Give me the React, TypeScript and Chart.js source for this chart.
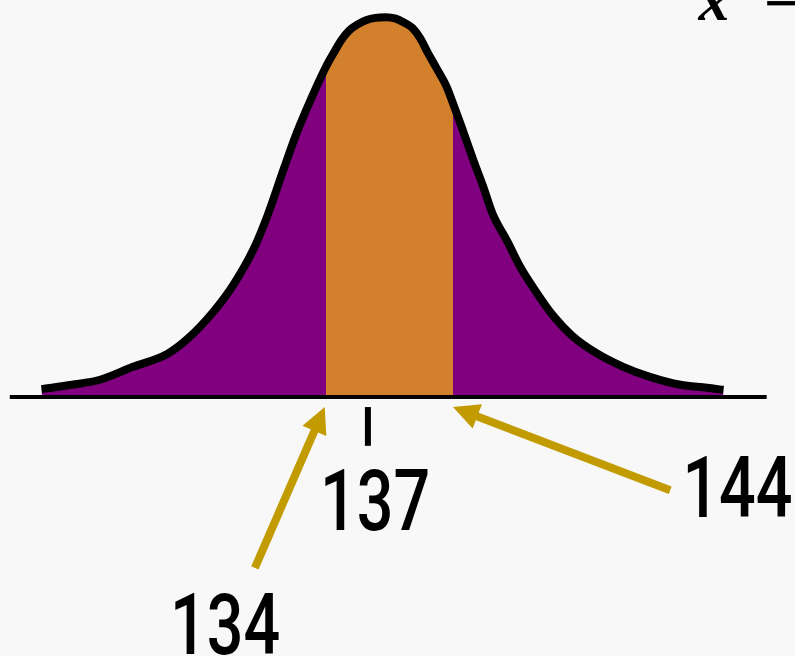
import React, { useEffect, useRef } from "react";
import { Chart, registerables } from "chart.js";

Chart.register(...registerables);

// Bell curve (x in the variable's units, y as density)
const curveX = [111.6, 114.0, 116.2, 118.8, 121.5, 123.1, 125.1, 126.7, 128.3, 129.4, 130.7, 131.7, 133.3, 134.0, 134.6, 135.2, 135.8, 136.5, 137.2, 137.9, 138.7, 139.5, 140.1, 140.8, 141.4, 142.0, 142.7, 143.5, 144.0, 144.6, 145.6, 146.4, 147.1, 148.3, 149.3, 150.6, 151.9, 153.4, 155.3, 157.4, 159.5, 161.9, 164.0, 165.3];
const curveY = [0.0011, 0.0017, 0.0024, 0.0042, 0.006, 0.0081, 0.0118, 0.0156, 0.0206, 0.0253, 0.0319, 0.0368, 0.0434, 0.046, 0.0479, 0.0497, 0.051, 0.0519, 0.0525, 0.0528, 0.0529, 0.0527, 0.0522, 0.0514, 0.05, 0.048, 0.0458, 0.0432, 0.0409, 0.038, 0.033, 0.0292, 0.0256, 0.0216, 0.0181, 0.0145, 0.0113, 0.0085, 0.0061, 0.0042, 0.0028, 0.0017, 0.0013, 0.001];

// shaded interval
const shadeLow = 134;
const shadeHigh = 144;

// axis line extent and mean tick
const axisRange = [109.1, 168.7];
const meanTick = 137.3;

// annotation labels: text, anchor x, anchor y (data units, bottom-centre of text)
const labelTexts = ["137", "134", "144"];
const labelX = [137.86, 126.05, 166.4];
const labelY = [-0.0185, -0.0358, -0.0167];

// arrows: tail -> head (data units)
const arrowTailX = [128.4, 161.1];
const arrowTailY = [-0.0238, -0.013];
const arrowHeadX = [133.9, 144.0];
const arrowHeadY = [-0.0014, -0.0014];

// scale bounds
const xMin = 108.33;
const xMax = 170.93;
const yMin = -0.03607;
const yMax = 0.05529;

const PURPLE = "#800080";
const ORANGE = "#D3802C";
const GOLD = "#C19B00";
const BG = "#F8F8F8";

const fullCurve = curveX.map((x, i) => ({ x, y: curveY[i] }));
const midCurve = fullCurve.filter((p) => p.x >= shadeLow && p.x <= shadeHigh);

const annotations = {
  id: "annotations",
  afterDraw(chart: any) {
    const ctx = chart.ctx;
    const xs = chart.scales.x;
    const ys = chart.scales.y;

    // mean tick
    ctx.save();
    ctx.strokeStyle = "#000";
    ctx.lineWidth = 6;
    ctx.beginPath();
    ctx.moveTo(xs.getPixelForValue(meanTick), ys.getPixelForValue(-0.0014));
    ctx.lineTo(xs.getPixelForValue(meanTick), ys.getPixelForValue(-0.0068));
    ctx.stroke();
    ctx.restore();

    // arrows
    for (let i = 0; i < arrowTailX.length; i++) {
      const x0 = xs.getPixelForValue(arrowTailX[i]);
      const y0 = ys.getPixelForValue(arrowTailY[i]);
      const x1 = xs.getPixelForValue(arrowHeadX[i]);
      const y1 = ys.getPixelForValue(arrowHeadY[i]);
      const ang = Math.atan2(y1 - y0, x1 - x0);
      const headLen = 26;
      const halfW = 13;
      const bx = x1 - headLen * Math.cos(ang);
      const by = y1 - headLen * Math.sin(ang);
      ctx.save();
      ctx.strokeStyle = GOLD;
      ctx.fillStyle = GOLD;
      ctx.lineWidth = 8;
      ctx.lineCap = "butt";
      ctx.beginPath();
      ctx.moveTo(x0, y0);
      ctx.lineTo(bx + 2 * Math.cos(ang), by + 2 * Math.sin(ang));
      ctx.stroke();
      ctx.beginPath();
      ctx.moveTo(x1, y1);
      ctx.lineTo(bx + halfW * Math.sin(ang), by - halfW * Math.cos(ang));
      ctx.lineTo(bx - halfW * Math.sin(ang), by + halfW * Math.cos(ang));
      ctx.closePath();
      ctx.fill();
      ctx.restore();
    }

    // labels (condensed look)
    for (let i = 0; i < labelTexts.length; i++) {
      const px = xs.getPixelForValue(labelX[i]);
      const py = ys.getPixelForValue(labelY[i]);
      ctx.save();
      ctx.translate(px, py);
      ctx.scale(0.76, 1);
      ctx.fillStyle = "#000";
      ctx.font = "500 85px Roboto";
      ctx.textAlign = "center";
      ctx.textBaseline = "alphabetic";
      ctx.fillText(labelTexts[i], 0, 0);
      ctx.restore();
    }

    // clipped formula fragment at top right
    const area = chart.chartArea;
    ctx.save();
    ctx.fillStyle = "#000";
    ctx.font = 'italic 700 62px "Liberation Serif"';
    ctx.textAlign = "center";
    ctx.textBaseline = "alphabetic";
    ctx.fillText("x", area.right - 81, area.top + 20);
    ctx.fillText("\u2212", area.right - 14, area.top + 24);
    ctx.restore();
  },
};

export default function App() {
  const ref = useRef<HTMLCanvasElement | null>(null);

  useEffect(() => {
    document.body.style.margin = "0";
    document.body.style.background = BG;
    const canvas = ref.current!;
    const chart = new Chart(canvas, {
      type: "line",
      data: {
        datasets: [
          {
            label: "curve",
            data: fullCurve,
            borderColor: "#000",
            borderWidth: 8,
            cubicInterpolationMode: "monotone",
            pointRadius: 0,
            fill: false,
            order: 0,
          },
          {
            label: "axis",
            data: [
              { x: axisRange[0], y: 0 },
              { x: axisRange[1], y: 0 },
            ],
            borderColor: "#000",
            borderWidth: 4,
            pointRadius: 0,
            fill: false,
            order: 1,
          },
          {
            label: "middle",
            data: midCurve,
            borderWidth: 0,
            borderColor: "rgba(0,0,0,0)",
            backgroundColor: ORANGE,
            cubicInterpolationMode: "monotone",
            pointRadius: 0,
            fill: "origin",
            order: 2,
          },
          {
            label: "tails",
            data: fullCurve,
            borderWidth: 0,
            borderColor: "rgba(0,0,0,0)",
            backgroundColor: PURPLE,
            cubicInterpolationMode: "monotone",
            pointRadius: 0,
            fill: "origin",
            order: 3,
          },
        ],
      },
      options: {
        animation: false,
        responsive: false,
        devicePixelRatio: 1,
        layout: { padding: 0 },
        plugins: {
          legend: { display: false },
          tooltip: { enabled: false },
          title: { display: false },
        },
        scales: {
          x: { type: "linear", min: xMin, max: xMax, display: false },
          y: { type: "linear", min: yMin, max: yMax, display: false },
        },
      },
      plugins: [annotations],
    } as any);
    return () => chart.destroy();
  }, []);

  return (
    <div style={{ position: "fixed", left: 0, top: 0, width: 795, height: 656, background: BG }}>
      <canvas ref={ref} width={795} height={656} style={{ display: "block" }} />
    </div>
  );
}
